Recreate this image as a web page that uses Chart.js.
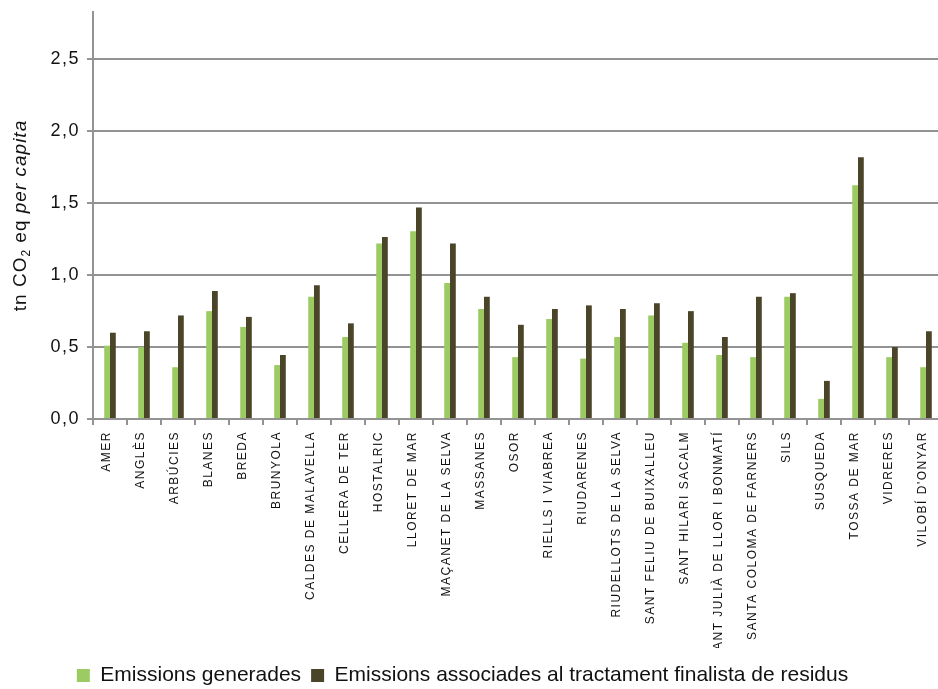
<!DOCTYPE html>
<html>
<head>
<meta charset="utf-8">
<script src="https://cdn.jsdelivr.net/npm/chart.js@4/dist/chart.umd.min.js"></script>
<style>
  html, body { margin: 0; padding: 0; background: #fff; overflow: hidden; }
  canvas { display: block; }
</style>
</head>
<body>
<canvas id="c" width="946" height="689"></canvas>
<script>
const categories = [
  "AMER", "ANGLÈS", "ARBÚCIES", "BLANES", "BREDA", "BRUNYOLA",
  "CALDES DE MALAVELLA", "CELLERA DE TER", "HOSTALRIC", "LLORET DE MAR",
  "MAÇANET DE LA SELVA", "MASSANES", "OSOR", "RIELLS I VIABREA",
  "RIUDARENES", "RIUDELLOTS DE LA SELVA", "SANT FELIU DE BUIXALLEU",
  "SANT HILARI SACALM", "SANT JULIÀ DE LLOR I BONMATÍ",
  "SANTA COLOMA DE FARNERS", "SILS", "SUSQUEDA", "TOSSA DE MAR",
  "VIDRERES", "VILOBÍ D'ONYAR"
];
const emissionsGenerades = [
  0.51, 0.50, 0.36, 0.75, 0.64, 0.375, 0.85, 0.57, 1.22, 1.305,
  0.945, 0.765, 0.43, 0.695, 0.42, 0.57, 0.72, 0.53, 0.445, 0.43,
  0.85, 0.14, 1.625, 0.43, 0.36
];
const emissionsTractament = [
  0.60, 0.61, 0.72, 0.89, 0.71, 0.445, 0.93, 0.665, 1.265, 1.47,
  1.22, 0.85, 0.655, 0.765, 0.79, 0.765, 0.805, 0.75, 0.57, 0.85,
  0.875, 0.265, 1.82, 0.50, 0.61
];
const seriesNames = [
  "Emissions generades",
  "Emissions associades al tractament finalista de residus"
];
const yTickValues = [0, 0.5, 1.0, 1.5, 2.0, 2.5];

const FONT = "'Liberation Sans', Arial, sans-serif";
const GRID = '#939393';

const spacingPatch = {
  id: 'spacingPatch',
  afterLayout(chart) {
    const spec = { x: '1.5px', y: '1.5px' };
    for (const id of ['x', 'y']) {
      const s = chart.scales[id];
      if (!s || s._spPatched) continue;
      const orig = s.drawLabels.bind(s);
      s.drawLabels = function (area) {
        const ctx = chart.ctx;
        ctx.save();
        try { ctx.letterSpacing = spec[id]; } catch (e) {}
        orig(area);
        ctx.restore();
      };
      s._spPatched = true;
    }
    const lg = chart.legend;
    if (lg) {
      lg.left -= 9; lg.right -= 9;
      lg.top += 7; lg.bottom += 7;
    }
  }
};

const yTitle = {
  id: 'yTitle',
  afterDraw(chart) {
    const ctx = chart.ctx;
    const a = chart.chartArea;
    const cy = (a.top + a.bottom) / 2;
    const parts = [
      { t: 'tn CO', f: "19px " + FONT, dy: 0 },
      { t: '2', f: "12px " + FONT, dy: 4 },
      { t: ' eq ', f: "19px " + FONT, dy: 0 },
      { t: 'per capita', f: "italic 19px " + FONT, dy: 0 }
    ];
    ctx.save();
    try { ctx.letterSpacing = '1px'; } catch (e) {}
    let total = 0;
    for (const p of parts) { ctx.font = p.f; p.w = ctx.measureText(p.t).width; total += p.w; }
    ctx.translate(26, cy);
    ctx.rotate(-Math.PI / 2);
    ctx.fillStyle = '#111';
    ctx.textAlign = 'left';
    ctx.textBaseline = 'alphabetic';
    let x = -total / 2;
    for (const p of parts) { ctx.font = p.f; ctx.fillText(p.t, x, p.dy); x += p.w; }
    ctx.restore();
  }
};

new Chart(document.getElementById('c'), {
  type: 'bar',
  data: {
    labels: categories,
    datasets: [
      { label: seriesNames[0], data: emissionsGenerades, backgroundColor: '#9BCB62', borderWidth: 0,
        categoryPercentage: 0.34, barPercentage: 1.0 },
      { label: seriesNames[1], data: emissionsTractament, backgroundColor: '#4A4429', borderWidth: 0,
        categoryPercentage: 0.34, barPercentage: 1.0 }
    ]
  },
  options: {
    responsive: false,
    devicePixelRatio: 1,
    animation: false,
    layout: { padding: { top: 12, right: 3, bottom: 0, left: 0 } },
    plugins: {
      legend: {
        position: 'bottom',
        labels: {
          boxWidth: 13, boxHeight: 13, padding: 10,
          color: '#111',
          font: { family: FONT, size: 21 }
        }
      },
      tooltip: { enabled: false }
    },
    scales: {
      x: {
        offset: true,
        grid: { display: true, drawOnChartArea: false, drawTicks: true, tickLength: 6,
                color: GRID, lineWidth: 2, offset: true },
        border: { display: true, color: GRID, width: 2 },
        ticks: {
          autoSkip: false, maxRotation: 90, minRotation: 90, padding: 6, labelOffset: -3,
          color: '#111', font: { family: FONT, size: 12 }
        },
        afterFit(s) { s.height = 229; s.paddingLeft = 0; s.paddingRight = 0; }
      },
      y: {
        min: 0, max: 2.83,
        grid: { color: GRID, lineWidth: 2, tickLength: 6, drawTicks: true },
        border: { display: true, color: GRID, width: 2 },
        ticks: {
          stepSize: 0.5, includeBounds: false, padding: 7,
          color: '#111', font: { family: FONT, size: 18 },
          callback: (v) => v.toFixed(1).replace('.', ',')
        },
        afterBuildTicks(s) {
          s.ticks = yTickValues.map(v => ({ value: v }));
        },
        afterFit(s) { s.width = 93; s.paddingTop = 0; s.paddingBottom = 0; }
      }
    }
  },
  plugins: [spacingPatch, yTitle]
});
</script>
</body>
</html>
